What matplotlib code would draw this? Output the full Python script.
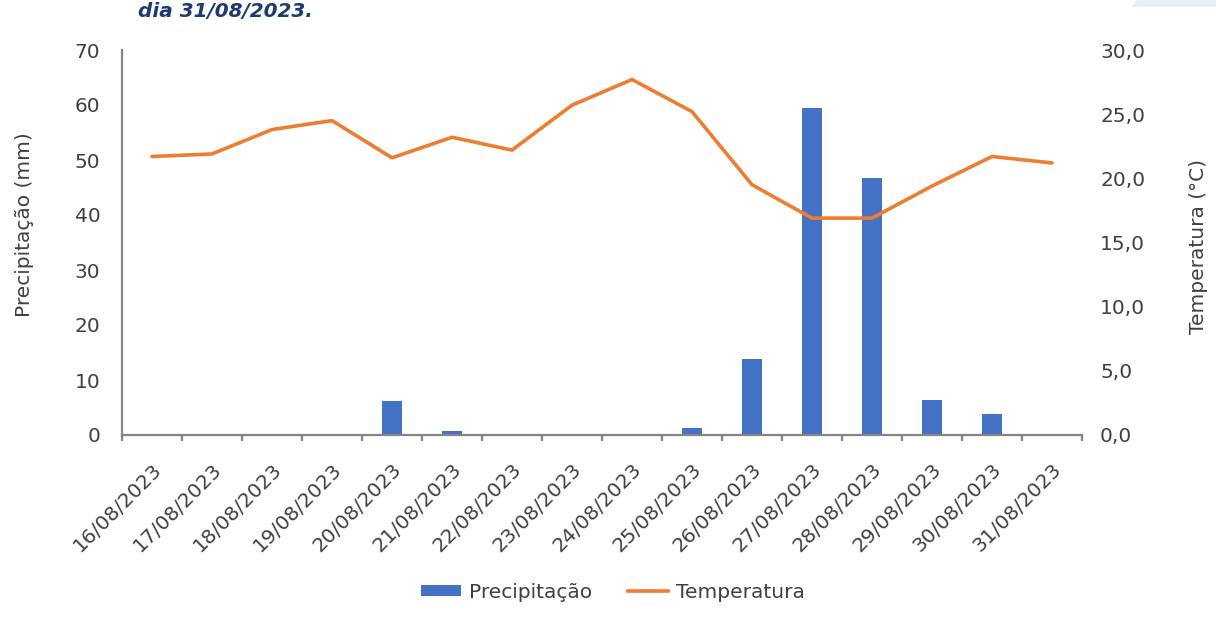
import matplotlib
matplotlib.use("Agg")
import matplotlib.pyplot as plt
from matplotlib.patches import Patch, Polygon
from matplotlib.lines import Line2D
from matplotlib.ticker import FuncFormatter, MultipleLocator

# Daily data, 16/08/2023 to 31/08/2023
dates = ["16/08/2023", "17/08/2023", "18/08/2023", "19/08/2023",
         "20/08/2023", "21/08/2023", "22/08/2023", "23/08/2023",
         "24/08/2023", "25/08/2023", "26/08/2023", "27/08/2023",
         "28/08/2023", "29/08/2023", "30/08/2023", "31/08/2023"]
precipitacao = [0, 0, 0, 0, 6.1, 0.7, 0, 0, 0, 1.3, 13.8, 59.5, 46.7, 6.4, 3.8, 0]
temperatura = [21.7, 21.9, 23.8, 24.5, 21.6, 23.2, 22.2, 25.7,
               27.7, 25.2, 19.5, 16.9, 16.9, 19.4, 21.7, 21.2]

BAR_COLOR = "#4472C4"
LINE_COLOR = "#ED7D31"
AXIS_COLOR = "#868686"
TEXT_COLOR = "#404040"
FS = 14.5

plt.rcParams["font.family"] = ["DejaVu Sans"]

W, H = 1216, 621
fig = plt.figure(figsize=(W / 100, H / 100), dpi=100)
fig.patch.set_facecolor("white")

ax = fig.add_axes([122 / W, 186 / H, 960 / W, 385 / H])
x = list(range(len(dates)))

ax.bar(x, precipitacao, width=0.32, color=BAR_COLOR, zorder=2)
ax.set_xlim(-0.5, len(dates) - 0.5)
ax.set_ylim(0, 70)
ax.yaxis.set_major_locator(MultipleLocator(10))

for side in ("top", "right"):
    ax.spines[side].set_visible(False)
for side in ("left", "bottom"):
    ax.spines[side].set_color(AXIS_COLOR)
    ax.spines[side].set_linewidth(1.6)

# Tick marks sit on category boundaries, labels under category centres
edges = [i - 0.5 for i in range(len(dates) + 1)]
ax.set_xticks(edges)
ax.set_xticklabels([])
ax.tick_params(axis="x", which="major", direction="out", length=4.5,
               width=1.6, color=AXIS_COLOR)
ax.set_xticks(x, minor=True)
ax.set_xticklabels(dates, minor=True, rotation=45, ha="right", va="top",
                   rotation_mode="anchor", fontsize=FS, color=TEXT_COLOR)
ax.tick_params(axis="x", which="minor", length=0, pad=18)

ax.tick_params(axis="y", length=0, pad=15.5, labelsize=FS, labelcolor=TEXT_COLOR)

ax2 = ax.twinx()
ax2.plot(x, temperatura, color=LINE_COLOR, linewidth=2.6,
         solid_joinstyle="round", solid_capstyle="round", zorder=3)
ax2.set_ylim(0, 30)
ax2.yaxis.set_major_locator(MultipleLocator(5))
ax2.yaxis.set_major_formatter(FuncFormatter(lambda v, p: f"{v:.1f}".replace(".", ",")))
for side in ("top", "right", "left", "bottom"):
    ax2.spines[side].set_visible(False)
ax2.tick_params(axis="y", length=0, pad=13, labelsize=FS, labelcolor=TEXT_COLOR)

# Axis titles
fig.text(25 / W, 1 - 225 / H, "Precipitação (mm)", rotation=90,
         ha="center", va="center", fontsize=FS, color=TEXT_COLOR)
fig.text(1198 / W, 1 - 247 / H, "Temperatura (°C)", rotation=90,
         ha="center", va="center", fontsize=FS, color=TEXT_COLOR)

# Legend below the plot
handles = [Patch(facecolor=BAR_COLOR, edgecolor="none"),
           Line2D([0], [0], color=LINE_COLOR, linewidth=2.6)]
fig.legend(handles, ["Precipitação", "Temperatura"], loc="center",
           bbox_to_anchor=(613 / W, 1 - 592 / H), ncol=2, frameon=False,
           fontsize=FS, handlelength=2.0, handleheight=0.5,
           handletextpad=0.4, columnspacing=1.75, labelcolor=TEXT_COLOR)

# Caption line at the top edge
fig.text(138 / W, 1 - 17 / H, "dia 31/08/2023.", fontsize=14.4,
         fontweight="bold", style="italic", color="#1F3A70", va="baseline")

# Light blue page decoration in the top-right corner
fig.patches.append(Polygon([(1137 / W, 1.0), (1.0, 1.0), (1.0, 1 - 7 / H),
                            (1131 / W, 1 - 7 / H)], closed=True,
                           transform=fig.transFigure, facecolor="#E6EFFA",
                           edgecolor="none"))

fig.savefig("out.png", dpi=100, facecolor="white")
